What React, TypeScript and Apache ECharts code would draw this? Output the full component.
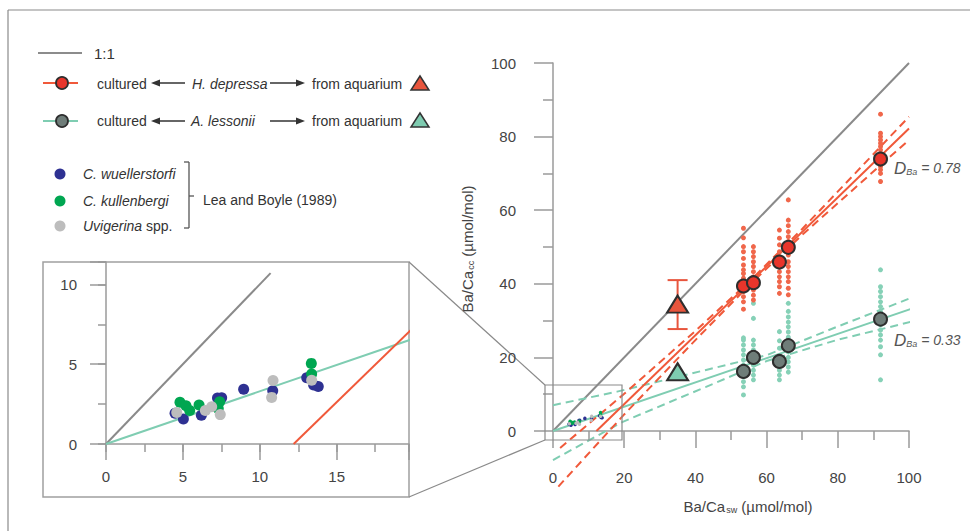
import React, { useEffect, useRef } from 'react';
import * as echarts from 'echarts';

// ---------- data ----------
const mainTicks = [0, 20, 40, 60, 80, 100];
const insetXTicks = [0, 5, 10, 15];
const insetYTicks = [0, 5, 10];

const oneToOne = [[0, 0], [100, 100]];
const oneToOneInset = [[0, 0], [10.7, 10.7]];

// H. depressa regression and confidence band
const hdFit = [[12.2, 0], [100, 82.2]];
const hdUpper = [[2, -4.6], [20, 10.1], [40, 27.2], [55, 40.5], [70, 54.9], [100, 85.4]];
const hdLower = [[1.5, -15.1], [20, 4.5], [40, 24.7], [55, 39.5], [70, 53.3], [100, 79.1]];

// A. lessonii regression and confidence band
const alFit = [[0, 0], [103, 34]];
const alUpper = [[0, 7], [18, 10.7], [43, 16.6], [60, 20.6], [80, 28.4], [102, 36.7]];
const alLower = [[0, -7.9], [19.6, 2.5], [43, 12.0], [60, 19.0], [80, 24.8], [102, 30.0]];

// culture conditions (Ba/Ca sw)
const conditionsX = [53.5, 56.3, 63.6, 66.1, 92];
const hdMeans = [39.4, 40.3, 45.9, 49.9, 73.9];
const alMeans = [16.2, 20.0, 18.9, 23.2, 30.4];

const hdSingles = [
  [55.1, 52.5, 50.1, 48.7, 46.9, 45.1, 43.8, 42.8, 41.5, 37.9, 36.5, 35.1, 33.1],
  [50.1, 48.7, 47.4, 46.0, 44.7, 43.3, 41.9, 38.3, 36.9, 35.6],
  [54.6, 52.4, 50.6, 48.7, 47.4, 43.3, 41.9, 40.6, 39.2, 37.4],
  [62.8, 57.3, 55.8, 54.2, 52.8, 51.5, 47.8, 46.0, 44.7, 43.3, 41.9, 40.6, 38.8, 37.0],
  [86.1, 80.9, 80.0, 79.1, 78.2, 77.3, 76.4, 75.5, 71.9, 71.0, 70.0, 67.8],
];
const alSingles = [
  [25.3, 24.7, 23.4, 22.0, 20.7, 19.3, 17.9, 14.8, 13.4, 12.0, 9.8],
  [34.7, 30.6, 24.7, 23.4, 22.0, 20.7, 17.9, 16.5, 15.2, 13.9],
  [27.0, 24.5, 22.5, 16.5, 15.2, 13.9],
  [34.7, 32.5, 31.0, 29.6, 28.3, 26.9, 25.5, 21.5, 20.0, 18.8, 17.4, 16.0],
  [43.8, 39.2, 37.9, 36.5, 35.1, 33.8, 32.4, 28.8, 27.4, 26.1, 24.7, 22.9, 20.7, 13.9],
];

// aquarium specimens
const aquariumX = 35;
const hdAquarium = 34.5;
const hdAquariumRange = [27.7, 41.0];
const alAquarium = 16.1;

// Lea and Boyle (1989)
const wuellerstorfi = [[4.49, 1.92], [5.03, 1.57], [6.2, 1.8], [7.25, 2.88], [7.52, 2.9], [8.95, 3.43], [10.84, 3.34], [13.05, 4.15], [13.5, 3.7], [13.8, 3.6]];
const kullenbergi = [[4.81, 2.62], [5.2, 2.4], [5.44, 2.1], [6.05, 2.44], [7.39, 2.65], [7.3, 2.23], [13.35, 5.05], [13.37, 4.38]];
const uvigerina = [[4.6, 1.98], [6.46, 2.1], [6.87, 2.34], [7.43, 1.84], [10.86, 3.98], [10.77, 2.92], [13.37, 4.0]];

// ---------- styles ----------
const F = '"Liberation Sans", Arial, Helvetica, sans-serif';
const AXIS = '#9a9a9a';
const TXT = '#444';
const RED_LINE = '#f0593a';
const RED_DOT = '#f0674b';
const RED_MEAN = '#e8352b';
const RED_TRI = '#e8553d';
const TEAL_LINE = '#7fcdb2';
const TEAL_DOT = '#86d1b7';
const GREY_MEAN = '#6f7d79';
const TEAL_TRI = '#7ecbb0';
const OUTLINE = '#2e2e2e';
const BLUE = '#2e3192';
const GREEN = '#00a651';
const LGREY = '#bdbdbd';

function lineSeries(data: number[][], color: string, dashed: boolean, xi = 0, clip = false, width = 2) {
  return {
    type: 'line',
    xAxisIndex: xi,
    yAxisIndex: xi,
    data,
    symbol: 'none',
    clip,
    silent: true,
    lineStyle: { color, width, type: dashed ? [8, 5] : 'solid' },
    z: 2,
  };
}

function columns(xs: number[], cols: number[][]) {
  const out: number[][] = [];
  cols.forEach((c, i) => c.forEach((v) => out.push([xs[i], v])));
  return out;
}

function txt(x: number, y: number, text: string, opts: any = {}) {
  return {
    type: 'text',
    x,
    y,
    style: {
      text,
      fontFamily: F,
      fontSize: opts.fontSize || 14,
      fontStyle: opts.italic ? 'italic' : 'normal',
      fill: opts.fill || '#333',
      align: opts.align || 'left',
      textAlign: opts.align || 'left',
      verticalAlign: 'middle',
      textVerticalAlign: 'middle',
      rich: opts.rich,
    },
  };
}

function seg(x1: number, y1: number, x2: number, y2: number, stroke: string, lineWidth = 1.5) {
  return { type: 'line', shape: { x1, y1, x2, y2 }, style: { stroke, lineWidth } };
}

function arrowLeft(x1: number, x2: number, y: number) {
  return [
    seg(x1 + 7, y, x2, y, '#333', 1.5),
    { type: 'polygon', shape: { points: [[x1, y], [x1 + 9, y - 3.5], [x1 + 9, y + 3.5]] }, style: { fill: '#333' } },
  ];
}
function arrowRight(x1: number, x2: number, y: number) {
  return [
    seg(x1, y, x2 - 7, y, '#333', 1.5),
    { type: 'polygon', shape: { points: [[x2, y], [x2 - 9, y - 3.5], [x2 - 9, y + 3.5]] }, style: { fill: '#333' } },
  ];
}

const richBase = { fontFamily: F, fontSize: 15, fill: TXT };
const subBase = { fontFamily: F, fontSize: 9, fill: TXT, padding: [8, 0, 0, 1] };
const dRich = {
  d: { fontFamily: F, fontSize: 17, fontStyle: 'italic', fill: '#555' },
  s: { fontFamily: F, fontSize: 9, fontStyle: 'italic', fill: '#555', padding: [8, 0, 0, 0] },
  t: { fontFamily: F, fontSize: 14, fontStyle: 'italic', fill: '#555' },
};

const graphics: any[] = [
  // frame
  seg(8, 10, 970, 10, '#8a8a8a', 1.2),
  seg(8, 10, 8, 531, '#8a8a8a', 1.2),
  // legend row 1
  seg(38, 53, 82, 53, '#8c8c8c', 2),
  txt(94, 53, '1:1', { fontSize: 15 }),
  // legend row 2
  seg(43, 83, 78, 83, RED_LINE, 2),
  { type: 'circle', shape: { cx: 62, cy: 83, r: 6 }, style: { fill: RED_MEAN, stroke: OUTLINE, lineWidth: 1.8 } },
  txt(97, 84, 'cultured'),
  ...arrowLeft(151, 185, 83),
  txt(192, 84, 'H. depressa', { italic: true }),
  ...arrowRight(270, 305, 83),
  txt(312, 84, 'from aquarium'),
  { type: 'polygon', shape: { points: [[420, 76], [411, 90], [429, 90]] }, style: { fill: RED_TRI, stroke: '#333', lineWidth: 1.5 } },
  // legend row 3
  seg(43, 121, 78, 121, TEAL_LINE, 2),
  { type: 'circle', shape: { cx: 62, cy: 121, r: 6 }, style: { fill: GREY_MEAN, stroke: OUTLINE, lineWidth: 1.8 } },
  txt(97, 121, 'cultured'),
  ...arrowLeft(151, 185, 121),
  txt(191, 121, 'A. lessonii', { italic: true }),
  ...arrowRight(270, 305, 121),
  txt(312, 121, 'from aquarium'),
  { type: 'polygon', shape: { points: [[420, 113], [411, 127], [429, 127]] }, style: { fill: TEAL_TRI, stroke: '#333', lineWidth: 1.5 } },
  // Lea & Boyle legend
  { type: 'circle', shape: { cx: 60, cy: 174, r: 5.5 }, style: { fill: BLUE } },
  { type: 'circle', shape: { cx: 60, cy: 201, r: 5.5 }, style: { fill: GREEN } },
  { type: 'circle', shape: { cx: 60, cy: 226, r: 5.5 }, style: { fill: LGREY } },
  txt(83, 174, 'C. wuellerstorfi', { italic: true }),
  txt(83, 201, 'C. kullenbergi', { italic: true }),
  txt(83, 226, '{i|Uvigerina}{n| spp.}', {
    rich: {
      i: { fontFamily: F, fontSize: 14, fontStyle: 'italic', fill: '#333' },
      n: { fontFamily: F, fontSize: 14, fill: '#333' },
    },
  }),
  seg(189, 162, 189, 228, '#555', 1.3),
  seg(184, 162, 189, 162, '#555', 1.3),
  seg(184, 228, 189, 228, '#555', 1.3),
  seg(189, 196, 194, 196, '#555', 1.3),
  txt(203, 200, 'Lea and Boyle (1989)'),
  // inset frame and zoom connectors
  { type: 'rect', shape: { x: 43, y: 262, width: 366, height: 235 }, style: { fill: 'none', stroke: '#a0a0a0', lineWidth: 1.5 } },
  { type: 'rect', shape: { x: 545, y: 385, width: 77, height: 55 }, style: { fill: 'none', stroke: '#8a8a8a', lineWidth: 1.2 }, z: 10 },
  seg(409, 262, 545, 385, '#8a8a8a', 1.2),
  seg(409, 497, 545, 440, '#8a8a8a', 1.2),
  // axis titles
  txt(748, 506, '{a|Ba/Ca}{s|sw}{a| (µmol/mol)}', { align: 'center', rich: { a: richBase, s: subBase } }),
  {
    type: 'text',
    x: 467,
    y: 249,
    rotation: Math.PI / 2,
    style: {
      text: '{a|Ba/Ca}{s|cc}{a| (µmol/mol)}',
      rich: { a: richBase, s: subBase },
      align: 'center',
      textAlign: 'center',
      verticalAlign: 'middle',
      textVerticalAlign: 'middle',
      fill: TXT,
    },
  },
  // partition coefficients
  txt(894, 168, '{d|D}{s|Ba}{t| = 0.78}', { rich: dRich }),
  txt(894, 340, '{d|D}{s|Ba}{t| = 0.33}', { rich: dRich }),
];

const axisLineStyle = { color: AXIS, width: 1.5 };
const labelStyle = { fontFamily: F, fontSize: 15, color: TXT };

const option: any = {
  animation: false,
  backgroundColor: '#ffffff',
  grid: [
    { left: 553, top: 63, width: 356, height: 368 },
    { left: 106, top: 262, width: 303, height: 182 },
  ],
  xAxis: [
    {
      gridIndex: 0, type: 'value', position: 'bottom', min: mainTicks[0], max: mainTicks[mainTicks.length - 1], interval: 20,
      axisLine: { show: true, onZero: false, lineStyle: axisLineStyle },
      axisTick: { show: true, length: 17, lineStyle: axisLineStyle },
      minorTick: { show: true, splitNumber: 2, length: 9, lineStyle: axisLineStyle },
      splitLine: { show: false }, minorSplitLine: { show: false },
      axisLabel: { ...labelStyle, margin: 39 },
    },
    {
      gridIndex: 1, type: 'value', position: 'bottom', min: insetXTicks[0], max: 19.7, interval: 5,
      axisLine: { show: true, onZero: false, lineStyle: axisLineStyle },
      axisTick: { show: true, length: 16, lineStyle: axisLineStyle },
      splitLine: { show: false },
      axisLabel: { ...labelStyle, margin: 25, formatter: (v: number) => (insetXTicks.indexOf(v) >= 0 ? String(v) : '') },
    },
    {
      gridIndex: 1, type: 'value', position: 'bottom', min: 0, max: 19.7, interval: 2.5,
      axisLine: { show: false }, axisTick: { show: true, length: 8, lineStyle: axisLineStyle },
      splitLine: { show: false }, axisLabel: { show: false },
    },
  ],
  yAxis: [
    {
      gridIndex: 0, type: 'value', position: 'left', min: mainTicks[0], max: mainTicks[mainTicks.length - 1], interval: 20,
      axisLine: { show: true, onZero: false, lineStyle: axisLineStyle },
      axisTick: { show: true, length: 19, lineStyle: axisLineStyle },
      minorTick: { show: true, splitNumber: 2, length: 10, lineStyle: axisLineStyle },
      splitLine: { show: false }, minorSplitLine: { show: false },
      axisLabel: { ...labelStyle, margin: 37, verticalAlign: 'middle', padding: [14, 0, 0, 0] },
    },
    {
      gridIndex: 1, type: 'value', position: 'left', min: insetYTicks[0], max: 11.4, interval: 5,
      axisLine: { show: true, onZero: false, lineStyle: axisLineStyle },
      axisTick: { show: true, length: 16, lineStyle: axisLineStyle },
      splitLine: { show: false },
      axisLabel: { ...labelStyle, margin: 29, formatter: (v: number) => (insetYTicks.indexOf(v) >= 0 ? String(v) : '') },
    },
    {
      gridIndex: 1, type: 'value', position: 'left', min: 0, max: 11.4, interval: 2.5,
      axisLine: { show: false }, axisTick: { show: true, length: 8, lineStyle: axisLineStyle },
      splitLine: { show: false }, axisLabel: { show: false },
    },
  ],
  graphic: { elements: graphics },
  series: [
    // main panel lines
    lineSeries(oneToOne, '#8a8a8a', false, 0, false, 2),
    lineSeries(alUpper, TEAL_LINE, true),
    lineSeries(alLower, TEAL_LINE, true),
    lineSeries(alFit, TEAL_LINE, false),
    lineSeries(hdUpper, RED_LINE, true),
    lineSeries(hdLower, RED_LINE, true),
    lineSeries(hdFit, RED_LINE, false),
    // single specimens
    {
      type: 'scatter', xAxisIndex: 0, yAxisIndex: 0, data: columns(conditionsX, alSingles),
      symbolSize: 5, itemStyle: { color: TEAL_DOT, opacity: 1 }, z: 3, silent: true,
    },
    {
      type: 'scatter', xAxisIndex: 0, yAxisIndex: 0, data: columns(conditionsX, hdSingles),
      symbolSize: 5, itemStyle: { color: RED_DOT, opacity: 1 }, z: 3, silent: true,
    },
    // Lea and Boyle in main panel (tiny)
    { type: 'scatter', xAxisIndex: 0, yAxisIndex: 0, data: wuellerstorfi, symbolSize: 3.5, itemStyle: { color: BLUE, opacity: 1 }, z: 3, silent: true },
    { type: 'scatter', xAxisIndex: 0, yAxisIndex: 0, data: kullenbergi, symbolSize: 3.5, itemStyle: { color: GREEN, opacity: 1 }, z: 3, silent: true },
    { type: 'scatter', xAxisIndex: 0, yAxisIndex: 0, data: uvigerina, symbolSize: 3.5, itemStyle: { color: LGREY, opacity: 1 }, z: 3, silent: true },
    // means
    {
      type: 'scatter', xAxisIndex: 0, yAxisIndex: 0, data: conditionsX.map((x, i) => [x, alMeans[i]]),
      symbolSize: 13, itemStyle: { color: GREY_MEAN, borderColor: OUTLINE, borderWidth: 2, opacity: 1 }, z: 5, silent: true,
    },
    {
      type: 'scatter', xAxisIndex: 0, yAxisIndex: 0, data: conditionsX.map((x, i) => [x, hdMeans[i]]),
      symbolSize: 13, itemStyle: { color: RED_MEAN, borderColor: OUTLINE, borderWidth: 2, opacity: 1 }, z: 5, silent: true,
    },
    // aquarium error bar
    {
      type: 'custom', xAxisIndex: 0, yAxisIndex: 0, clip: false, silent: true, z: 4,
      data: [[aquariumX, hdAquariumRange[0], hdAquariumRange[1]]],
      encode: { x: 0, y: [1, 2] },
      renderItem: (params: any, api: any) => {
        const lo = api.coord([api.value(0), api.value(1)]);
        const hi = api.coord([api.value(0), api.value(2)]);
        const st = { stroke: RED_TRI, lineWidth: 2 };
        return {
          type: 'group',
          children: [
            { type: 'line', shape: { x1: lo[0], y1: lo[1], x2: hi[0], y2: hi[1] }, style: st },
            { type: 'line', shape: { x1: lo[0] - 10, y1: lo[1], x2: lo[0] + 10, y2: lo[1] }, style: st },
            { type: 'line', shape: { x1: hi[0] - 10, y1: hi[1], x2: hi[0] + 10, y2: hi[1] }, style: st },
          ],
        };
      },
    },
    {
      type: 'scatter', xAxisIndex: 0, yAxisIndex: 0, data: [[aquariumX, hdAquarium]], symbol: 'triangle',
      symbolSize: [21, 17], itemStyle: { color: RED_TRI, borderColor: OUTLINE, borderWidth: 2, opacity: 1 }, z: 6, silent: true,
    },
    {
      type: 'scatter', xAxisIndex: 0, yAxisIndex: 0, data: [[aquariumX, alAquarium]], symbol: 'triangle',
      symbolSize: [21, 17], itemStyle: { color: TEAL_TRI, borderColor: OUTLINE, borderWidth: 2, opacity: 1 }, z: 6, silent: true,
    },
    // inset panel
    lineSeries(oneToOneInset, '#8a8a8a', false, 1, true, 2),
    lineSeries(alFit, TEAL_LINE, false, 1, true, 2),
    lineSeries(hdFit, RED_LINE, false, 1, true, 2),
    { type: 'scatter', xAxisIndex: 1, yAxisIndex: 1, data: wuellerstorfi, symbolSize: 11, itemStyle: { color: BLUE, opacity: 1 }, z: 3, silent: true },
    { type: 'scatter', xAxisIndex: 1, yAxisIndex: 1, data: kullenbergi, symbolSize: 11, itemStyle: { color: GREEN, opacity: 1 }, z: 3, silent: true },
    { type: 'scatter', xAxisIndex: 1, yAxisIndex: 1, data: uvigerina, symbolSize: 11, itemStyle: { color: LGREY, opacity: 1 }, z: 3, silent: true },
  ],
};

export default function App() {
  const ref = useRef<HTMLDivElement>(null);
  useEffect(() => {
    if (!ref.current) return;
    const chart = echarts.init(ref.current, null, { renderer: 'svg' });
    chart.setOption(option);
    return () => chart.dispose();
  }, []);
  return <div ref={ref} style={{ position: 'absolute', left: 0, top: 0, width: 970, height: 531, background: '#fff' }} />;
}
